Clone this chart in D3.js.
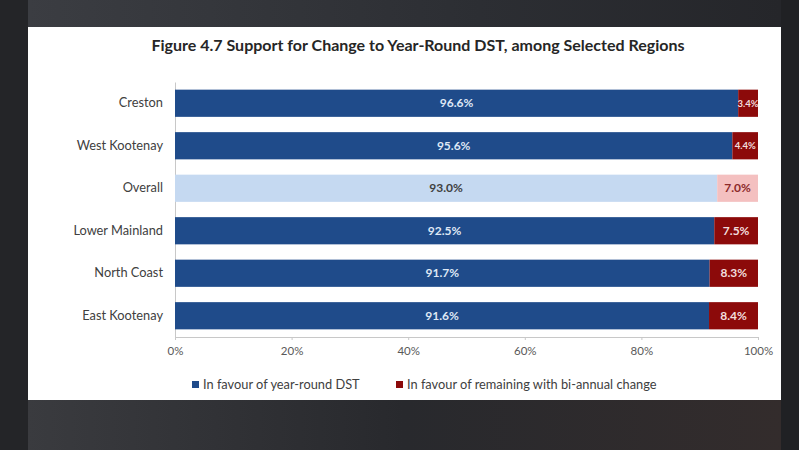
<!DOCTYPE html>
<html>
<head>
<meta charset="utf-8">
<script src="https://cdn.jsdelivr.net/npm/d3@7"></script>
<style>
  body { margin: 0; background: #2a2b2e; }
  svg { display: block; }
  text { font-family: Lato, "Open Sans", sans-serif; }
</style>
</head>
<body>
<script>
var regions = ["Creston", "West Kootenay", "Overall", "Lower Mainland", "North Coast", "East Kootenay"];
var inFavour = [96.6, 95.6, 93.0, 92.5, 91.7, 91.6];
var remaining = [3.4, 4.4, 7.0, 7.5, 8.3, 8.4];
var ticks = [0, 20, 40, 60, 80, 100];
var legendLabels = ["In favour of year-round DST", "In favour of remaining with bi-annual change"];

var w = 799,
    h = 450;

var svg = d3.select("body").append("svg")
    .attr("width", w)
    .attr("height", h);

var defs = svg.append("defs");
var topGrad = defs.append("linearGradient").attr("id", "topGrad")
    .attr("x1", 0).attr("x2", 1).attr("y1", 0).attr("y2", 0);
topGrad.append("stop").attr("offset", "0%").attr("stop-color", "#3b3d42");
topGrad.append("stop").attr("offset", "60%").attr("stop-color", "#2c2e33");
topGrad.append("stop").attr("offset", "100%").attr("stop-color", "#25262a");
var botGrad = defs.append("linearGradient").attr("id", "botGrad")
    .attr("x1", 0).attr("x2", 1).attr("y1", 0).attr("y2", 0);
botGrad.append("stop").attr("offset", "0%").attr("stop-color", "#3a3b3f");
botGrad.append("stop").attr("offset", "50%").attr("stop-color", "#28292d");
botGrad.append("stop").attr("offset", "100%").attr("stop-color", "#332c2c");

// photo frame around the chart
svg.append("rect").attr("x", 0).attr("y", 0).attr("width", w).attr("height", h).attr("fill", "#2a2b2e");
svg.append("rect").attr("x", 28).attr("y", 0).attr("width", 753).attr("height", 27).attr("fill", "url(#topGrad)");
svg.append("rect").attr("x", 28).attr("y", 400).attr("width", 753).attr("height", 50).attr("fill", "url(#botGrad)");
svg.append("rect").attr("x", 0).attr("y", 0).attr("width", 28).attr("height", h).attr("fill", "#242528");
svg.append("rect").attr("x", 781).attr("y", 0).attr("width", 18).attr("height", h).attr("fill", "#202124");

// white chart panel
svg.append("rect")
    .attr("x", 28).attr("y", 27)
    .attr("width", 753).attr("height", 373)
    .attr("fill", "#ffffff");

svg.append("text")
    .attr("x", 418).attr("y", 51)
    .attr("text-anchor", "middle")
    .attr("font-size", 16)
    .attr("font-weight", "bold")
    .attr("fill", "#262626")
    .text("Figure 4.7 Support for Change to Year-Round DST, among Selected Regions");

var x = d3.scaleLinear().domain([0, 100]).range([175, 758]);
var y = d3.scaleBand().domain(regions).range([82, 337]).paddingInner(0.36).paddingOuter(0.18);

var rows = regions.map(function(r, i) {
  return { region: r, a: inFavour[i], b: remaining[i], overall: r == "Overall" };
});

var g = svg.append("g");

// axes
g.append("g")
    .attr("transform", "translate(0,337)")
    .call(d3.axisBottom(x).tickValues(ticks).tickSize(3).tickFormat(function(d) { return d + "%"; }))
    .call(function(a) {
      a.select(".domain").attr("stroke", "#c8c8c8");
      a.selectAll(".tick line").attr("stroke", "#c8c8c8");
      a.selectAll(".tick text").attr("fill", "#595959").attr("font-size", 11.5).attr("dy", "1.0em");
    });

g.append("g")
    .attr("transform", "translate(175,0)")
    .call(d3.axisLeft(y).tickSize(0).tickPadding(12))
    .call(function(a) {
      a.select(".domain").attr("stroke", "#c8c8c8");
      a.selectAll(".tick text").attr("fill", "#404040").attr("font-size", 12.8);
    });

var bars = g.selectAll("g.row")
    .data(rows)
    .enter()
    .append("g")
    .attr("class", "row");

bars.append("rect")
    .attr("x", x(0))
    .attr("y", function(d) { return y(d.region); })
    .attr("width", function(d) { return x(d.a) - x(0); })
    .attr("height", y.bandwidth())
    .attr("fill", function(d) { return d.overall ? "#c5d9f1" : "#1f4b8a"; });

bars.append("rect")
    .attr("x", function(d) { return x(d.a); })
    .attr("y", function(d) { return y(d.region); })
    .attr("width", function(d) { return x(d.a + d.b) - x(d.a); })
    .attr("height", y.bandwidth())
    .attr("fill", function(d) { return d.overall ? "#f4c0c0" : "#8c0a0a"; });

bars.append("text")
    .attr("x", function(d) { return x(d.a / 2); })
    .attr("y", function(d) { return y(d.region) + y.bandwidth() / 2; })
    .attr("dy", "0.35em")
    .attr("text-anchor", "middle")
    .attr("font-size", 12)
    .attr("font-weight", "bold")
    .attr("fill", function(d) { return d.overall ? "#404040" : "#dfe8f5"; })
    .text(function(d) { return d.a.toFixed(1) + "%"; });

bars.append("text")
    .attr("x", function(d) { return x(d.a + d.b / 2); })
    .attr("y", function(d) { return y(d.region) + y.bandwidth() / 2; })
    .attr("dy", "0.35em")
    .attr("text-anchor", "middle")
    .attr("font-size", function(d) { return d.b < 5 ? 9.5 : 12; })
    .attr("font-weight", "bold")
    .attr("fill", function(d) { return d.overall ? "#8c2a2a" : "#f2dede"; })
    .text(function(d) { return d.b.toFixed(1) + "%"; });

// legend
var legendColors = ["#1f4b8a", "#8c0a0a"];
var legendX = [192, 396];
var legend = svg.selectAll("g.legend")
    .data(legendLabels)
    .enter()
    .append("g")
    .attr("class", "legend")
    .attr("transform", function(d, i) { return "translate(" + legendX[i] + ",385)"; });

legend.append("rect")
    .attr("x", 0).attr("y", -4)
    .attr("width", 7).attr("height", 7)
    .attr("fill", function(d, i) { return legendColors[i]; });

legend.append("text")
    .attr("x", 11).attr("y", 0)
    .attr("dy", "0.35em")
    .attr("font-size", 12.8)
    .attr("fill", "#404040")
    .text(function(d) { return d; });
</script>
</body>
</html>
